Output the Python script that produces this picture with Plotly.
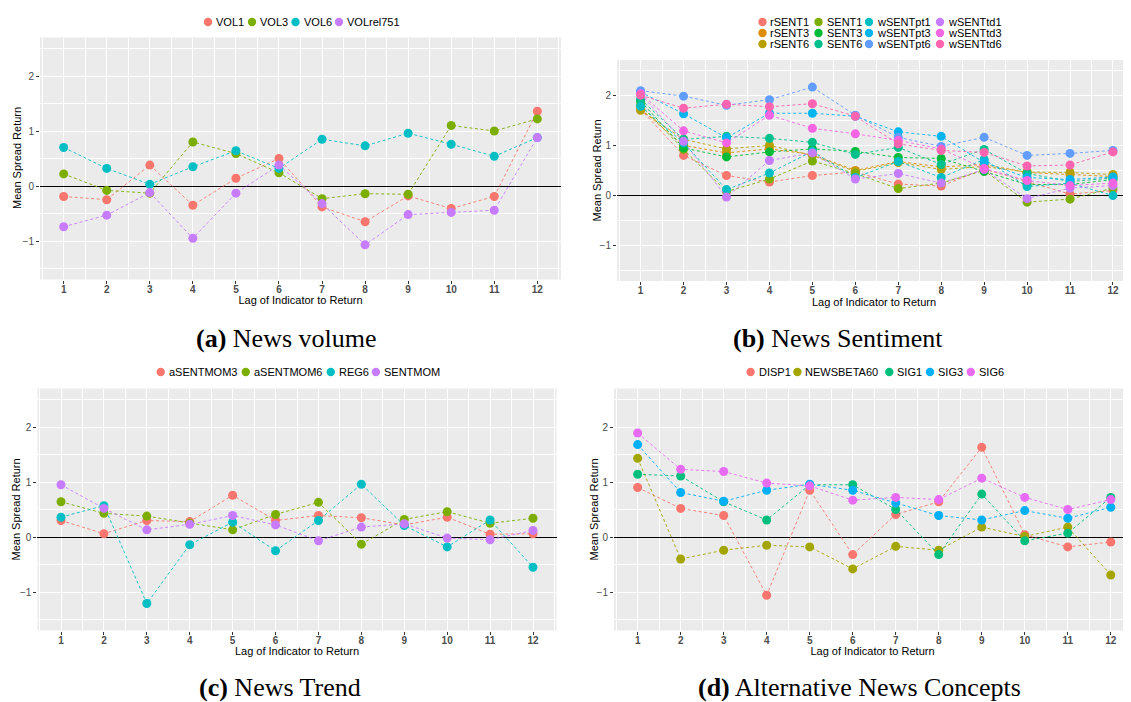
import plotly.graph_objects as go

# page body adds an 8px margin around the figure div; positions below are
# given in window pixels and converted to figure-paper fractions.
OFF = 8
W, H = 1131 - OFF, 702 - OFF

lags = list(range(1, 13))

# ---- Panel (a) News volume
vol_names = ["VOL1", "VOL3", "VOL6", "VOLrel751"]
VOL1 = [-0.19, -0.25, 0.38, -0.35, 0.14, 0.50, -0.38, -0.65, -0.18, -0.41, -0.19, 1.36]
VOL3 = [0.22, -0.08, -0.13, 0.80, 0.59, 0.24, -0.23, -0.14, -0.15, 1.10, 1.00, 1.22]
VOL6 = [0.70, 0.32, 0.03, 0.35, 0.64, 0.32, 0.85, 0.73, 0.96, 0.76, 0.54, 0.88]
VOLrel751 = [-0.74, -0.53, -0.12, -0.95, -0.13, 0.38, -0.32, -1.07, -0.52, -0.48, -0.44, 0.88]
vol_values = [VOL1, VOL3, VOL6, VOLrel751]
pal4 = ["#F8766D", "#7CAE00", "#00BFC4", "#C77CFF"]

# ---- Panel (b) News Sentiment
sent_names = ["rSENT1", "rSENT3", "rSENT6", "SENT1", "SENT3", "SENT6",
              "wSENTpt1", "wSENTpt3", "wSENTpt6", "wSENTtd1", "wSENTtd3", "wSENTtd6"]
rSENT1 = [1.72, 0.80, 0.40, 0.27, 0.40, 0.47, 0.23, 0.19, 0.53, 0.28, 0.03, 0.10]
rSENT3 = [1.72, 1.00, 0.85, 0.93, 0.82, 0.50, 0.68, 0.57, 0.62, 0.46, 0.42, 0.38]
rSENT6 = [1.70, 1.12, 0.93, 1.00, 0.80, 0.48, 0.66, 0.52, 0.58, 0.47, 0.46, 0.42]
SENT1 = [1.80, 0.92, 0.08, 0.33, 0.69, 0.44, 0.14, 0.25, 0.50, -0.13, -0.07, 0.15]
SENT3 = [1.88, 0.95, 0.77, 0.87, 0.93, 0.88, 0.76, 0.74, 0.48, 0.22, 0.22, 0.32]
SENT6 = [1.92, 1.12, 1.18, 1.14, 1.06, 0.82, 0.96, 0.62, 0.92, 0.44, 0.28, 0.35]
wSENTpt1 = [1.78, 1.05, 0.12, 0.45, 0.88, 0.36, 0.68, 0.36, 0.72, 0.18, 0.25, 0.00]
wSENTpt3 = [2.06, 1.63, 1.15, 1.64, 1.64, 1.58, 1.27, 1.18, 0.66, 0.36, 0.32, 0.37]
wSENTpt6 = [2.09, 1.98, 1.80, 1.91, 2.16, 1.60, 1.16, 0.98, 1.16, 0.80, 0.84, 0.90]
wSENTtd1 = [2.02, 1.08, -0.03, 0.70, 0.85, 0.33, 0.44, 0.25, 0.52, -0.06, 0.15, 0.20]
wSENTtd3 = [2.03, 1.29, 1.05, 1.60, 1.34, 1.23, 1.10, 0.93, 0.54, 0.30, 0.20, 0.25]
wSENTtd6 = [2.00, 1.74, 1.82, 1.77, 1.83, 1.58, 1.03, 0.90, 0.86, 0.59, 0.61, 0.87]
sent_values = [rSENT1, rSENT3, rSENT6, SENT1, SENT3, SENT6,
               wSENTpt1, wSENTpt3, wSENTpt6, wSENTtd1, wSENTtd3, wSENTtd6]
pal12 = ["#F8766D", "#DE8C00", "#B79F00", "#7CAE00", "#00BA38", "#00C08B",
         "#00BFC4", "#00B4F0", "#619CFF", "#C77CFF", "#F564E3", "#FF64B0"]

# ---- Panel (c) News Trend
trend_names = ["aSENTMOM3", "aSENTMOM6", "REG6", "SENTMOM"]
aSENTMOM3 = [0.30, 0.06, 0.30, 0.28, 0.76, 0.30, 0.39, 0.35, 0.22, 0.36, 0.05, 0.06]
aSENTMOM6 = [0.64, 0.43, 0.38, 0.25, 0.13, 0.41, 0.63, -0.13, 0.32, 0.46, 0.25, 0.34]
REG6 = [0.36, 0.57, -1.21, -0.14, 0.27, -0.25, 0.30, 0.96, 0.21, -0.18, 0.31, -0.55]
SENTMOM = [0.95, 0.52, 0.13, 0.23, 0.39, 0.22, -0.07, 0.18, 0.24, -0.02, -0.05, 0.12]
trend_values = [aSENTMOM3, aSENTMOM6, REG6, SENTMOM]

# ---- Panel (d) Alternative News Concepts
alt_names = ["DISP1", "NEWSBETA60", "SIG1", "SIG3", "SIG6"]
DISP1 = [0.90, 0.52, 0.39, -1.06, 0.85, -0.32, 0.41, 0.64, 1.63, 0.04, -0.18, -0.09]
NEWSBETA60 = [1.43, -0.40, -0.24, -0.15, -0.18, -0.58, -0.17, -0.24, 0.18, 0.01, 0.18, -0.69]
SIG1 = [1.14, 1.11, 0.64, 0.31, 0.95, 0.95, 0.50, -0.32, 0.78, -0.07, 0.07, 0.72]
SIG3 = [1.68, 0.81, 0.65, 0.85, 0.96, 0.85, 0.62, 0.39, 0.31, 0.48, 0.34, 0.54]
SIG6 = [1.89, 1.23, 1.19, 0.98, 0.93, 0.67, 0.72, 0.68, 1.07, 0.72, 0.50, 0.68]
alt_values = [DISP1, NEWSBETA60, SIG1, SIG3, SIG6]
pal5 = ["#F8766D", "#A3A500", "#00BF7D", "#00B0F6", "#E76BF3"]

y_ticks = [-1, 0, 1, 2]
captions = ["<b>(a)</b> News volume", "<b>(b)</b> News Sentiment",
            "<b>(c)</b> News Trend", "<b>(d)</b> Alternative News Concepts"]
x_title = "Lag of Indicator to Return"
y_title = "Mean Spread Return"

SANS = "Liberation Sans, Arial, sans-serif"
SERIF = "Liberation Serif, Times New Roman, serif"

fig = go.Figure()


def add_series(names, values, colors, ax):
    for n, v, c in zip(names, values, colors):
        fig.add_trace(go.Scatter(
            x=lags, y=v, name=n, mode="lines+markers",
            xaxis="x" + ax, yaxis="y" + ax, showlegend=False,
            line=dict(color=c, width=0.9, dash="3px,2.5px"),
            marker=dict(color=c, size=9, line=dict(width=0)),
        ))


add_series(vol_names, vol_values, pal4, "")
add_series(sent_names, sent_values, pal12, "2")
add_series(trend_names, trend_values, pal4, "3")
add_series(alt_names, alt_values, pal5, "4")


def px_x(p):
    return (p - OFF) / W


def px_y(p):
    return 1 - (p - OFF) / H


panels = {
    "": dict(xd=[40, 561], yd=[37.5, 279.5], xr=[0.45, 12.55], ytx=17.5),
    "2": dict(xd=[617, 1131], yd=[60, 281], xr=[0.45, 12.42], ytx=596),
    "3": dict(xd=[37.4, 556.6], yd=[388.5, 630.5], xr=[0.45, 12.55], ytx=15),
    "4": dict(xd=[614, 1131], yd=[388.5, 630.5], xr=[0.45, 12.47], ytx=593),
}

layout = dict(
    width=W, height=H, margin=dict(l=0, r=0, t=0, b=0),
    paper_bgcolor="white", plot_bgcolor="#EBEBEB",
    font=dict(family=SANS, color="black"),
    showlegend=False,
)

annotations = []
shapes = []

for ax, p in panels.items():
    xk = "xaxis" + ax
    yk = "yaxis" + ax
    layout[xk] = dict(
        domain=[px_x(p["xd"][0]), min(1.0, px_x(p["xd"][1]))],
        range=p["xr"], anchor="y" + ax,
        tickvals=lags, ticks="outside", ticklen=3, tickcolor="#333333", tickwidth=1,
        ticklabelstandoff=-3,
        tickfont=dict(family=SANS, size=10, color="#4D4D4D", weight="bold"),
        showgrid=True, gridcolor="white", gridwidth=1.1,
        minor=dict(tickvals=[l + 0.5 for l in range(0, 13)], showgrid=True,
                   gridcolor="white", gridwidth=0.5, ticks=""),
        zeroline=False, showline=False,
        title=dict(text=x_title, standoff=2,
                   font=dict(family=SANS, size=11, color="black")),
    )
    layout[yk] = dict(
        domain=[px_y(p["yd"][1]), px_y(p["yd"][0])],
        range=[-1.7, 2.7], anchor="x" + ax,
        tickvals=y_ticks, ticks="outside", ticklen=3, tickcolor="#333333", tickwidth=1,
        tickfont=dict(family=SANS, size=10, color="#4D4D4D"),
        showgrid=True, gridcolor="white", gridwidth=1.1,
        minor=dict(tickvals=[-1.5, -0.5, 0.5, 1.5, 2.5], showgrid=True,
                   gridcolor="white", gridwidth=0.5, ticks=""),
        zeroline=True, zerolinecolor="black", zerolinewidth=1,
        showline=False,
    )
    # y-axis title placed as rotated text at the reference position
    annotations.append(dict(text=y_title, xref="paper", yref="paper",
                            x=px_x(p["ytx"]), y=px_y((p["yd"][0] + p["yd"][1]) / 2),
                            xanchor="center", yanchor="middle", textangle=-90,
                            showarrow=False, font=dict(family=SANS, size=11, color="black")))


# ---- manual legends (dot + label), positions in window pixels
def legend_item(dot_x, dot_y, label, color):
    shapes.append(dict(type="circle", xref="paper", yref="paper",
                       xsizemode="pixel", ysizemode="pixel",
                       xanchor=px_x(dot_x), yanchor=px_y(dot_y),
                       x0=-4.2, x1=4.2, y0=-4.2, y1=4.2,
                       fillcolor=color, line=dict(width=0)))
    annotations.append(dict(text=label, xref="paper", yref="paper",
                            x=px_x(dot_x + 6), y=px_y(dot_y), xanchor="left", yanchor="middle",
                            showarrow=False, font=dict(family=SANS, size=11, color="black")))


legA_x = [208, 252, 295.5, 339]
for xx, n, c in zip(legA_x, vol_names, pal4):
    legend_item(xx, 22, n, c)

legB_cols = [762.5, 818.5, 869, 940]
legB_rows = [22, 33, 44]
for i, (n, c) in enumerate(zip(sent_names, pal12)):
    legend_item(legB_cols[i // 3], legB_rows[i % 3], n, c)

legC_x = [160.7, 245.8, 330.8, 375.9]
for xx, n, c in zip(legC_x, trend_names, pal4):
    legend_item(xx, 372, n, c)

legD_x = [750.6, 797.4, 889.3, 930, 970.8]
for xx, n, c in zip(legD_x, alt_names, pal5):
    legend_item(xx, 372, n, c)

# ---- captions
cap_pos = [(286.5, 338), (838, 338), (280, 687), (859, 687)]
for (cx, cy), t in zip(cap_pos, captions):
    annotations.append(dict(text=t, xref="paper", yref="paper", x=px_x(cx), y=px_y(cy),
                            xanchor="center", yanchor="middle", showarrow=False,
                            font=dict(family=SERIF, size=26, color="black")))

layout["shapes"] = shapes
layout["annotations"] = annotations
fig.update_layout(**layout)

fig.write_html("out.html")
